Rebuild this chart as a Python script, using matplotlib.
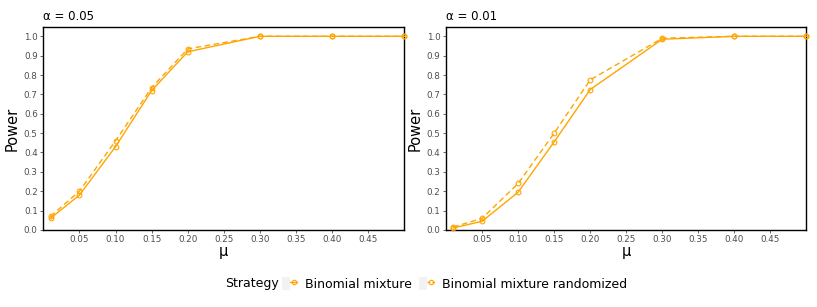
import matplotlib
matplotlib.use("Agg")
import matplotlib.pyplot as plt
from matplotlib.lines import Line2D
from matplotlib.patches import Patch
from matplotlib.legend_handler import HandlerTuple
import numpy as np

# valores
mu = [0.01, 0.05, 0.10, 0.15, 0.20, 0.30, 0.40, 0.50]
alphas = ["0.05", "0.01"]
power_mix = {
    "0.05": [0.06, 0.18, 0.43, 0.72, 0.92, 1.0, 1.0, 1.0],
    "0.01": [0.01, 0.045, 0.195, 0.455, 0.725, 0.985, 1.0, 1.0],
}
power_rand = {
    "0.05": [0.07, 0.20, 0.46, 0.735, 0.935, 1.0, 1.0, 1.0],
    "0.01": [0.015, 0.06, 0.24, 0.50, 0.775, 0.99, 1.0, 1.0],
}
xticks = [0.05, 0.10, 0.15, 0.20, 0.25, 0.30, 0.35, 0.40, 0.45]
yticks = np.round(np.arange(0, 1.01, 0.1), 1)

COLOR = "#FFA500"
GRIS = "#4D4D4D"

fig = plt.figure(figsize=(8.17, 3.07), dpi=100)
posiciones = [[0.053, 0.251, 0.442, 0.661], [0.546, 0.251, 0.441, 0.661]]

for pos, a in zip(posiciones, alphas):
    ax = fig.add_axes(pos)
    ax.plot(mu, power_mix[a], color=COLOR, lw=1.0, ls="-", marker="o",
            ms=3.4, mfc="none", mec=COLOR, mew=0.8, clip_on=False, zorder=3)
    ax.plot(mu, power_rand[a], color=COLOR, lw=1.0, ls=(0, (4, 2.5)), marker="o",
            ms=3.4, mfc="none", mec=COLOR, mew=0.8, clip_on=False, zorder=3)
    ax.set_xlim(0, 0.5)
    ax.set_ylim(0, 1.048)
    ax.set_xticks(xticks)
    ax.set_xticklabels([f"{t:.2f}" for t in xticks])
    ax.set_yticks(yticks)
    ax.set_yticklabels([f"{t:.1f}" for t in yticks])
    ax.tick_params(labelsize=6.3, colors=GRIS, length=2.5, width=0.6, pad=1.5)
    for s in ax.spines.values():
        s.set_linewidth(1.0)
        s.set_color("black")
    ax.set_ylabel("Power", fontsize=10.5, labelpad=3)
    ax.set_xlabel("μ", fontsize=10.5, labelpad=0)
    ax.set_title(f"α = {a}", fontsize=8.5, loc="left", x=0.0, pad=5)

# leyenda inferior (claves con fondo gris, estilo ggplot)
fondo = Patch(facecolor="#F2F2F2", edgecolor="none")
h1 = Line2D([], [], color=COLOR, lw=1.0, ls="-", marker="o", ms=3.2,
            mfc="none", mec=COLOR, mew=0.8)
h2 = Line2D([], [], color=COLOR, lw=1.0, ls=(0, (2, 1.5)), marker="o", ms=3.2,
            mfc="none", mec=COLOR, mew=0.8)
fig.text(0.2754, 0.075, "Strategy", fontsize=9, va="center", ha="left")
leg = fig.legend([(fondo, h1), (fondo, h2)],
                 ["Binomial mixture", "Binomial mixture randomized"],
                 handler_map={tuple: HandlerTuple(ndivide=None, pad=0)},
                 loc="center left", bbox_to_anchor=(0.345, 0.075), ncol=2,
                 frameon=False, fontsize=9, handlelength=1.25, handleheight=1.25,
                 handletextpad=0.6, columnspacing=0.6, borderpad=0,
                 borderaxespad=0)

fig.savefig("out.png", dpi=100)
